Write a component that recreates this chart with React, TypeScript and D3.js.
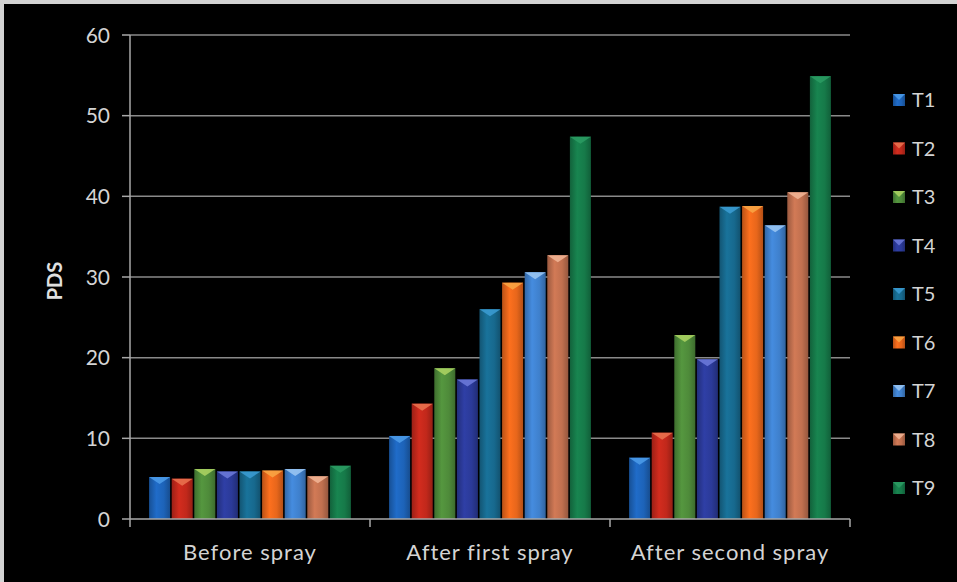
import React from 'react';
import * as d3 from 'd3';

const categories = ['Before spray', 'After first spray', 'After second spray'];
const seriesNames = ['T1', 'T2', 'T3', 'T4', 'T5', 'T6', 'T7', 'T8', 'T9'];
const T1 = [5.2, 10.3, 7.6];
const T2 = [5.0, 14.3, 10.7];
const T3 = [6.2, 18.7, 22.8];
const T4 = [5.9, 17.3, 19.8];
const T5 = [5.9, 26.0, 38.7];
const T6 = [6.0, 29.3, 38.8];
const T7 = [6.2, 30.6, 36.4];
const T8 = [5.3, 32.7, 40.5];
const T9 = [6.6, 47.4, 54.9];
const seriesValues = [T1, T2, T3, T4, T5, T6, T7, T8, T9];
const seriesColors = ['#1d63b8', '#c1281b', '#4e8a3a', '#2b3a98', '#17698e', '#e7661b', '#3f80cc', '#c0704f', '#167a49'];
const capColors = ['#4a9ae8', '#e8704e', '#a8d060', '#6a78d8', '#3a9ad0', '#f8a444', '#98c4f2', '#f0b294', '#2a9a62'];
const yTicks = [0, 10, 20, 30, 40, 50, 60];
const yLabel = 'PDS';

const W = 957;
const H = 582;
const left = 130;
const right = 850;
const top = 35;
const bottom = 519;
const FONT = 'Lato, "Open Sans", sans-serif';

export default function App() {
  const x0 = d3.scaleBand<string>().domain(categories).range([left, right]).paddingInner(0).paddingOuter(0);
  const x1 = d3.scaleBand<string>().domain(seriesNames).range([0, x0.bandwidth()]).paddingInner(0.07).paddingOuter(0.845);
  const y = d3.scaleLinear().domain([0, 60]).range([bottom, top]);
  const bw = x1.bandwidth();
  const boundaries = [...categories.map((c) => x0(c) as number), right];

  return (
    <svg width={W} height={H} style={{ position: 'absolute', left: 0, top: 0 }} fontFamily={FONT}>
      <defs>
        {seriesColors.map((c, i) => {
          const col = d3.color(c)!;
          return (
            <linearGradient key={i} id={`g${i}`} x1="0" x2="1" y1="0" y2="0">
              <stop offset="0" stopColor={col.darker(0.6).formatHex()} />
              <stop offset="0.35" stopColor={col.brighter(0.25).formatHex()} />
              <stop offset="0.7" stopColor={c} />
              <stop offset="1" stopColor={col.darker(0.7).formatHex()} />
            </linearGradient>
          );
        })}
      </defs>
      <rect x={0} y={0} width={W} height={H} fill="#d4d4d4" />
      <rect x={4} y={4} width={W - 4} height={H - 4} fill="#000" />

      {/* gridlines */}
      {yTicks.filter((t) => t > 0).map((t) => (
        <line key={t} x1={left} x2={right} y1={y(t)} y2={y(t)} stroke="#8a8a8a" strokeWidth={1.5} />
      ))}

      {/* bars */}
      {categories.map((cat, ci) => (
        <g key={cat} transform={`translate(${x0(cat)},0)`}>
          {seriesNames.map((s, si) => {
            const v = seriesValues[si][ci];
            const bx = x1(s) as number;
            const by = y(v);
            const capH = Math.min(7, (bottom - by) / 2);
            return (
              <g key={s}>
                <rect x={bx} y={by} width={bw} height={bottom - by} fill={`url(#g${si})`} />
                <polygon
                  points={`${bx},${by} ${bx + bw},${by} ${bx + bw / 2},${by + capH}`}
                  fill={capColors[si]}
                  opacity={0.9}
                />
              </g>
            );
          })}
        </g>
      ))}

      {/* y axis */}
      <line x1={left} x2={left} y1={top} y2={bottom} stroke="#a8a8a8" strokeWidth={1.5} />
      {yTicks.map((t) => (
        <g key={t}>
          <line x1={left - 8} x2={left} y1={y(t)} y2={y(t)} stroke="#a8a8a8" strokeWidth={1.5} />
          <text x={110} y={y(t)} dy="0.36em" textAnchor="end" fill="#d4d4d4" fontSize={21}>
            {t}
          </text>
        </g>
      ))}
      <text
        transform={`translate(62,281) rotate(-90)`}
        textAnchor="middle"
        fill="#e0e0e0"
        fontSize={20}
        fontWeight="bold"
      >
        {yLabel}
      </text>

      {/* x axis */}
      <line x1={left} x2={right} y1={bottom} y2={bottom} stroke="#a8a8a8" strokeWidth={1.5} />
      {boundaries.map((bx, i) => (
        <line key={i} x1={bx} x2={bx} y1={bottom} y2={bottom + 8} stroke="#a8a8a8" strokeWidth={1.5} />
      ))}
      {categories.map((cat) => (
        <text
          key={cat}
          x={(x0(cat) as number) + x0.bandwidth() / 2}
          y={560}
          textAnchor="middle"
          fill="#d4d4d4"
          fontSize={22}
          letterSpacing={1}
        >
          {cat}
        </text>
      ))}

      {/* legend */}
      {seriesNames.map((s, i) => {
        const ly = 100 + i * 48.5;
        return (
          <g key={s}>
            <rect x={893} y={ly - 6} width={12} height={12} fill={`url(#g${i})`} />
            <polygon points={`${893},${ly - 6} ${905},${ly - 6} ${899},${ly}`} fill={capColors[i]} opacity={0.9} />
            <text x={912} y={ly} dy="0.36em" fill="#d4d4d4" fontSize={20}>
              {s}
            </text>
          </g>
        );
      })}
    </svg>
  );
}
